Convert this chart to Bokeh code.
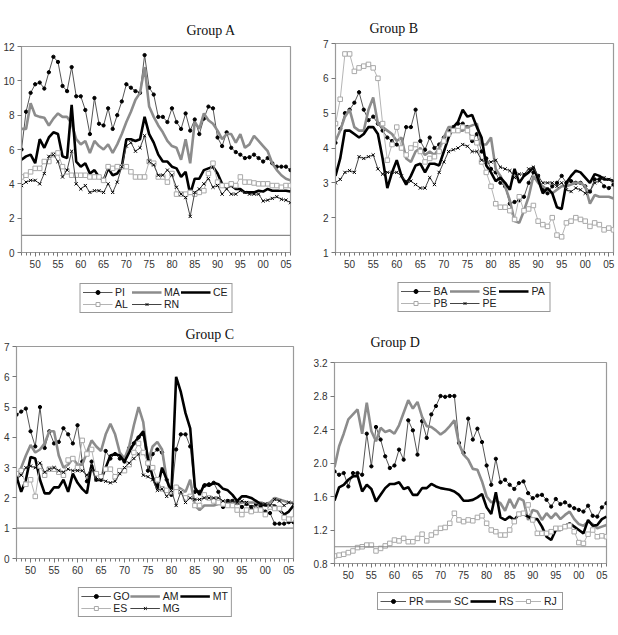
from bokeh.plotting import figure
from bokeh.layouts import column, row
from bokeh.models import Range1d, FixedTicker, Legend, LegendItem, Span
from bokeh.embed import file_html
from bokeh.resources import INLINE

years = list(range(1947, 2007))
x_major = list(range(1950, 2006, 5))
x_labels = {y: f"{y % 100:02d}" for y in x_major}

# ---------------- Group A ----------------
PI = [6.0, 8.2, 9.3, 9.8, 9.9, 9.55, 10.5, 11.4, 11.1, 9.7,
      9.4, 10.8, 9.1, 9.1, 8.3, 6.9, 9.0, 7.5, 7.4, 8.4,
      7.2, 8.0, 8.8, 9.8, 9.6, 9.4, 9.3, 11.5, 9.6, 9.2,
      7.9, 7.9, 7.6, 8.4, 7.6, 7.2, 8.1, 7.1, 7.75, 6.9,
      7.8, 8.5, 8.4, 6.7, 6.2, 7.0, 6.1, 5.85, 5.7, 5.5,
      5.55, 5.7, 5.5, 5.3, 5.5, 5.2, 5.0, 5.0, 5.0, 4.8]
MA = [7.2, 7.2, 8.7, 8.0, 7.9, 7.85, 7.4, 7.8, 8.1, 7.9,
      7.9, 7.5, 6.6, 6.3, 6.5, 5.8, 6.5, 6.2, 6.0, 6.3,
      5.8, 6.3, 6.9, 7.6, 8.2, 8.9, 9.3, 10.8, 8.5, 7.9,
      7.4, 7.0, 6.5, 6.2, 6.1, 5.4, 6.6, 5.2, 7.6, 7.2,
      8.1, 7.7, 7.5, 7.1, 6.6, 6.9, 6.9, 6.4, 6.9, 6.1,
      6.3, 6.8, 6.5, 6.2, 5.9, 5.2, 4.8, 4.5, 4.3, 4.2]
CE = [5.4, 5.6, 5.7, 5.2, 6.6, 6.1, 6.7, 7.0, 6.9, 5.6,
      5.5, 8.6, 5.3, 5.0, 5.2, 4.6, 4.8, 4.4, 4.2, 4.9,
      4.5, 4.6, 5.0, 6.6, 6.6, 6.5, 6.6, 7.9, 6.9, 6.4,
      5.7, 5.3, 5.3, 5.0, 4.9, 4.4, 4.7, 3.4, 4.3, 4.3,
      4.8, 4.9, 5.0, 4.6, 4.0, 3.8, 3.9, 3.7, 3.7, 3.5,
      3.5, 3.5, 3.6, 3.55, 3.7, 3.6, 3.6, 3.6, 3.6, 3.55]
AL = [4.4, 4.5, 4.7, 4.9, 4.9, 5.3, 5.3, 5.7, 5.8, 5.0,
      4.7, 4.5, 4.5, 4.5, 4.5, 4.4, 4.4, 4.4, 4.2, 5.0,
      4.9, 5.0, 5.0, 5.0, 4.7, 4.4, 4.4, 4.4, 5.3, 5.2,
      4.4, 4.4, 4.1, 4.6, 3.4, 3.4, 3.4, 3.5, 3.4, 3.5,
      3.6, 4.6, 5.2, 4.1, 3.9, 3.9, 4.0, 3.9, 4.4, 4.1,
      4.1, 4.05, 4.0, 4.0, 4.0, 3.9, 3.9, 3.8, 3.9, 3.9]
RN = [3.9, 4.1, 4.2, 4.2, 4.0, 4.6, 5.6, 5.7, 5.3, 4.4,
      4.8, 5.9, 4.0, 3.7, 3.9, 3.5, 3.6, 3.6, 3.5, 4.0,
      3.5, 4.1, 5.0, 6.2, 6.4, 5.9, 6.1, 6.8, 5.3, 5.1,
      4.5, 4.5, 4.8, 4.5, 3.8, 3.4, 3.2, 2.1, 3.5, 3.7,
      4.0, 4.3, 3.8, 3.9, 3.4, 3.7, 3.4, 3.4, 3.6, 3.5,
      3.4, 3.4, 3.4, 3.0, 3.05, 3.15, 3.25, 3.1, 3.05, 2.9]

# ---------------- Group B ----------------
BA = [4.15, 4.55, 5.0, 5.1, 5.3, 5.6, 5.1, 4.8, 4.9, 4.7,
      4.5, 4.3, 4.2, 4.1, 4.0, 4.6, 4.6, 5.1, 4.2, 3.95,
      4.3, 4.0, 4.1, 4.3, 4.5, 4.6, 4.7, 4.7, 4.6, 4.2,
      4.4, 3.9, 3.7, 3.4, 3.3, 3.0, 2.9, 2.4, 2.45, 2.5,
      2.6, 3.0, 3.3, 3.2, 2.8, 2.7, 2.9, 3.0, 3.2, 3.0,
      3.05, 3.0, 3.0, 2.9, 2.75, 3.1, 3.1, 2.9, 2.85, 2.95]
SE = [4.2, 4.5, 4.9, 5.1, 4.6, 4.5, 4.5, 5.1, 5.45, 4.7,
      4.6, 4.5, 4.4, 4.2, 4.3, 3.7, 3.6, 3.9, 4.0, 3.8,
      3.9, 3.8, 4.0, 4.3, 4.6, 4.6, 4.5, 4.5, 4.6, 4.65,
      4.7, 4.1, 4.1, 4.3, 3.4, 3.2, 2.9, 2.5, 1.9, 1.85,
      2.2, 2.6, 3.2, 3.0, 2.9, 2.8, 2.7, 2.8, 2.9, 2.9,
      2.95, 3.0, 3.0, 2.9, 2.4, 2.65, 2.6, 2.6, 2.6, 2.55]
PA = [3.2, 3.7, 4.5, 4.5, 4.4, 4.3, 4.4, 4.6, 4.6, 4.4,
      3.7, 2.85, 3.3, 3.65, 3.2, 2.95, 3.2, 3.5, 3.55, 3.3,
      3.55, 3.55, 3.5, 3.9, 4.3, 4.6, 4.75, 5.1, 4.9, 4.95,
      4.6, 4.3, 3.5, 3.3, 3.05, 3.15, 3.0, 2.8, 3.4, 3.0,
      3.2, 3.3, 3.45, 3.1, 2.7, 2.85, 2.7, 2.3, 2.25, 3.0,
      3.2, 3.35, 3.3, 3.15, 3.0, 3.25, 3.2, 3.1, 3.1, 3.05]
PB = [4.7, 5.4, 6.7, 6.7, 6.2, 6.3, 6.35, 6.4, 6.3, 6.0,
      4.7, 3.65, 4.1, 4.6, 4.0, 3.8, 4.0, 4.1, 3.9, 3.6,
      3.7, 3.75, 3.9, 4.2, 4.4, 4.5, 4.5, 4.6, 4.5, 4.3,
      4.15, 3.6, 3.3, 2.9, 2.4, 2.3, 2.3, 2.2, 1.95, 2.6,
      2.2, 2.25, 2.35, 1.9, 1.8, 1.75, 2.0, 1.5, 1.45, 1.85,
      1.9, 2.0, 1.95, 1.9, 1.75, 1.85, 1.8, 1.65, 1.7, 1.65]
PE = [3.0, 3.1, 3.3, 3.35, 3.3, 3.75, 3.7, 3.75, 3.8, 3.4,
      3.25, 3.3, 3.3, 3.3, 3.2, 3.05, 3.05, 2.95, 2.85, 2.85,
      3.15, 2.95, 3.3, 3.6, 3.9, 3.95, 4.0, 4.1, 4.05, 3.9,
      3.9, 3.65, 3.6, 3.6, 3.65, 3.45, 3.4, 3.35, 3.15, 3.25,
      3.25, 3.4, 3.45, 3.2, 3.0, 3.0, 3.0, 2.9, 3.0, 2.8,
      2.75, 2.85, 2.8, 2.7, 2.75, 3.0, 3.05, 3.15, 3.1, 3.05]

# ---------------- Group C ----------------
GO = [4.75, 4.85, 4.95, 4.2, 3.7, 5.0, 3.65, 4.2, 3.8, 3.85,
      4.3, 4.1, 3.8, 4.4, 3.2, 2.55, 3.2, 2.6, 2.6, 3.55,
      3.3, 3.45, 3.3, 3.2, 3.65, 3.8, 4.0, 4.1, 2.9, 3.45,
      3.6, 3.5, 2.6, 2.1, 3.6, 4.1, 4.1, 3.7, 2.2, 2.2,
      2.4, 2.45, 2.5, 2.2, 1.7, 1.9, 1.9, 1.85, 1.7, 1.8,
      1.7, 1.8, 1.7, 1.55, 1.5, 1.15, 1.15, 1.15, 1.2, 1.2]
AM = [2.6, 3.0, 3.4, 3.75, 3.5, 3.6, 3.8, 4.2, 4.2, 3.4,
      3.0, 3.1, 3.3, 3.1, 3.1, 3.5, 3.9, 3.7, 3.55, 4.1,
      4.45, 4.1, 3.5, 3.3, 3.7, 4.4, 5.0, 4.5, 3.2, 3.7,
      3.85, 3.6, 2.6, 2.2, 2.4, 2.3, 2.2, 2.6, 1.75, 1.6,
      1.75, 1.75, 1.75, 1.8, 1.8, 1.8, 1.85, 1.8, 1.85, 1.85,
      1.85, 1.85, 1.85, 1.8, 1.85, 2.0, 1.95, 1.9, 1.85, 1.85]
MT = [2.7, 2.2, 2.6, 3.35, 3.3, 2.6, 2.15, 2.15, 2.35, 2.35,
      2.6, 2.2, 2.8, 2.5, 2.3, 2.15, 3.1, 2.6, 2.6, 3.0,
      3.4, 3.45, 3.4, 3.2, 3.5, 3.8, 4.0, 4.2, 3.3, 2.7,
      2.3, 3.0, 2.6, 2.15, 6.0, 5.5, 4.8, 4.3, 2.35, 2.1,
      2.45, 2.4, 2.5, 2.45, 2.3, 2.25, 2.1, 1.9, 2.05, 2.05,
      2.0, 1.9, 1.8, 1.75, 1.75, 1.75, 1.6, 1.45, 1.55, 1.75]
ES = [2.8, 2.9, 2.45, 2.6, 2.05, 3.05, 2.75, 2.95, 2.95, 2.85,
      2.75, 3.25, 3.3, 3.0, 3.9, 3.45, 3.6, 2.8, 2.7, 2.95,
      2.95, 2.7, 2.9, 2.9, 3.1, 3.5, 3.8, 3.5, 3.15, 3.0,
      2.6, 2.3, 2.25, 2.2, 2.35, 2.2, 2.0, 2.05, 1.75, 1.75,
      2.1, 2.0, 1.9, 1.85, 1.8, 1.75, 1.75, 1.6, 1.45, 1.6,
      1.55, 1.6, 1.6, 1.45, 1.7, 1.65, 1.65, 1.35, 1.3, 1.3]
MG = [2.6, 2.75, 3.0, 3.05, 3.0, 3.15, 2.85, 2.95, 3.0, 2.9,
      2.85, 2.95, 2.9, 2.9, 2.9, 2.75, 3.0, 2.6, 2.6, 2.55,
      2.5, 2.55, 2.8, 3.0, 3.15, 3.3, 3.45, 2.75, 2.7, 2.6,
      2.25, 2.3, 2.05, 2.25, 1.75, 2.2, 1.85, 2.0, 1.95, 1.95,
      2.0, 2.0, 2.0, 2.0, 1.9, 1.9, 1.9, 1.85, 1.9, 1.85,
      1.7, 1.75, 1.8, 1.8, 1.75, 1.95, 1.9, 1.75, 1.85, 1.8]

# ---------------- Group D ----------------
PR = [1.9, 1.86, 1.88, 1.72, 1.88, 1.88, 1.86, 2.35, 1.96, 2.43,
      2.28, 2.08, 1.94, 1.97, 2.16, 2.04, 2.51, 2.39, 2.1, 2.5,
      2.3, 2.58, 2.68, 2.8, 2.79, 2.8, 2.8, 2.24, 2.12, 2.53,
      2.28, 2.41, 2.25, 1.97, 1.74, 2.05, 1.77, 1.8, 1.74, 1.69,
      1.76, 1.78, 1.64, 1.58, 1.61, 1.62, 1.56, 1.48, 1.57, 1.51,
      1.53, 1.49, 1.46, 1.44, 1.42, 1.49, 1.37, 1.36, 1.47, 1.52]
SC = [1.95, 2.2, 2.35, 2.52, 2.58, 2.64, 2.35, 2.72, 2.38, 2.26,
      2.42, 2.37, 2.39, 2.35, 2.45, 2.6, 2.75, 2.65, 2.73, 2.55,
      2.44, 2.43, 2.39, 2.34, 2.38, 2.44, 2.51, 2.23, 2.1, 2.04,
      1.93, 1.92, 1.78, 1.6, 1.53, 1.55, 1.52, 1.43, 1.57, 1.46,
      1.58, 1.55, 1.32, 1.44, 1.42, 1.32, 1.4, 1.34, 1.4, 1.33,
      1.38, 1.42, 1.33, 1.27, 1.25, 1.3, 1.27, 1.22, 1.24, 1.26]
RS = [1.55, 1.71, 1.74, 1.8, 1.84, 1.85, 1.66, 1.74, 1.69, 1.54,
      1.62, 1.7, 1.75, 1.75, 1.77, 1.69, 1.71, 1.62, 1.62, 1.7,
      1.7, 1.75, 1.72, 1.7, 1.69, 1.68, 1.66, 1.62, 1.55, 1.55,
      1.56, 1.59, 1.63, 1.47, 1.39, 1.65, 1.35, 1.32, 1.36, 1.32,
      1.39, 1.39, 1.36, 1.33, 1.33, 1.24, 1.12, 1.08, 1.2, 1.2,
      1.25, 1.28, 1.24, 1.2, 1.16, 1.32, 1.25, 1.26, 1.33, 1.36]
RJ = [0.89, 0.9, 0.91, 0.93, 0.95, 0.99, 1.0, 1.02, 1.02, 0.95,
      0.98, 1.01, 1.04, 1.08, 1.07, 1.1, 1.06, 1.06, 1.1, 1.15,
      1.07, 1.14, 1.17, 1.22, 1.23, 1.28, 1.4, 1.32, 1.3, 1.32,
      1.31, 1.35, 1.37, 1.28, 1.2, 1.18, 1.14, 1.14, 1.2, 1.3,
      1.39, 1.4, 1.5, 1.32, 1.16, 1.16, 1.16, 1.18, 1.22, 1.22,
      1.24, 1.25, 1.18, 1.05, 1.04, 1.15, 1.2, 1.12, 1.13, 1.12]

STYLES = {
    "dot": dict(line_color="#555555", line_width=1, marker="circle", size=3.3,
                fill="#000000", mline="#000000"),
    "gray": dict(line_color="#8c8c8c", line_width=2.6),
    "black": dict(line_color="#000000", line_width=2.6),
    "square": dict(line_color="#b4b4b4", line_width=1, marker="square", size=4.5,
                   fill="#ffffff", mline="#a8a8a8"),
    "x": dict(line_color="#444444", line_width=1, marker="x", size=4.5,
              fill="#000000", mline="#000000"),
}

FONT = "Liberation Sans"


def add_series(p, xs, vals, sty):
    st = STYLES[sty]
    rs = [p.line(xs, vals, line_color=st["line_color"], line_width=st["line_width"])]
    if "marker" in st:
        rs.append(p.scatter(xs, vals, marker=st["marker"], size=st["size"],
                            fill_color=st["fill"], line_color=st["mline"],
                            line_width=1))
    return rs


def panel(title, series, yr, yticks, ylabels, width, height, borders,
          title_offset, title_standoff, ref_line=True):
    left, right, top, bottom = borders
    p = figure(width=width, height=height, output_backend="svg",
               toolbar_location=None, x_range=Range1d(1947, 2006),
               y_range=Range1d(*yr), min_border_left=left,
               min_border_right=right, min_border_top=top,
               min_border_bottom=bottom)
    p.xgrid.visible = False
    p.ygrid.visible = False
    p.outline_line_color = "#9a9a9a"
    p.outline_line_width = 1.2
    p.background_fill_color = "white"
    p.border_fill_color = "white"

    p.title.text = title
    p.title.align = "left"
    p.title.offset = title_offset
    p.title.standoff = title_standoff
    p.title.text_font = "Liberation Serif"
    p.title.text_font_size = "14px"
    p.title.text_font_style = "normal"
    p.title.text_color = "#111111"

    p.xaxis.ticker = FixedTicker(ticks=x_major, minor_ticks=years)
    p.xaxis.major_label_overrides = x_labels
    p.yaxis.ticker = FixedTicker(ticks=yticks)
    if ylabels:
        p.yaxis.major_label_overrides = ylabels
    for ax in (p.xaxis, p.yaxis):
        ax.axis_line_color = "#9a9a9a"
        ax.major_tick_line_color = "#777777"
        ax.minor_tick_line_color = "#777777"
        ax.major_tick_in = 0
        ax.major_tick_out = 4
        ax.minor_tick_in = 0
        ax.minor_tick_out = 3
        ax.major_label_text_font = FONT
        ax.major_label_text_font_size = "10px"
        ax.major_label_text_color = "#333333"
        ax.major_label_standoff = 3
    p.yaxis.minor_tick_line_color = None

    if ref_line:
        p.add_layout(Span(location=1, dimension="width", line_color="#8a8a8a",
                          line_width=1.2))

    for name, vals, sty in series:
        add_series(p, years, vals, sty)
    return p


def legend_fig(series, width, height, ncols, top_gap, left, right, gw=30):
    # the series are drawn here too, but out of view: only the legend shows
    q = figure(width=width, height=height, output_backend="svg",
               toolbar_location=None, x_range=Range1d(0, 1), y_range=Range1d(0, 1),
               min_border_left=left, min_border_right=right,
               min_border_top=0, min_border_bottom=0)
    q.axis.visible = False
    q.grid.visible = False
    q.outline_line_color = None
    q.border_fill_color = "white"
    items = []
    for name, vals, sty in series:
        rs = add_series(q, years, vals, sty)
        items.append(LegendItem(label=name, renderers=rs))
    lg = Legend(items=items, orientation="horizontal", ncols=ncols,
                location="top_center", border_line_color="#333333",
                border_line_width=1, background_fill_color="white",
                background_fill_alpha=1, label_text_font=FONT,
                label_text_font_size="10.5px", label_text_color="#222222",
                glyph_width=gw, glyph_height=10, label_height=10,
                label_width=16, label_standoff=3, spacing=0, padding=2,
                margin=top_gap)
    q.add_layout(lg)
    return q


SA = [("PI", PI, "dot"), ("MA", MA, "gray"), ("CE", CE, "black"),
      ("AL", AL, "square"), ("RN", RN, "x")]
SB = [("BA", BA, "dot"), ("SE", SE, "gray"), ("PA", PA, "black"),
      ("PB", PB, "square"), ("PE", PE, "x")]
SCc = [("GO", GO, "dot"), ("AM", AM, "gray"), ("MT", MT, "black"),
       ("ES", ES, "square"), ("MG", MG, "x")]
SD = [("PR", PR, "dot"), ("SC", SC, "gray"), ("RS", RS, "black"),
      ("RJ", RJ, "square")]

pA = panel("Group A", SA, (0, 12), [0, 2, 4, 6, 8, 10, 12], None,
           310, 278, (16, 20, 46, 26), 165, 18)
lA = legend_fig(SA, 310, 42, 3, 5, 18, 20)
pB = panel("Group B", SB, (1, 7), [1, 2, 3, 4, 5, 6, 7], None,
           308, 280, (25, 5, 43, 28), 34, 16, ref_line=False)
lB = legend_fig(SB, 308, 40, 3, 2, 18, 5)
pC = panel("Group C", SCc, (0, 7), [0, 1, 2, 3, 4, 5, 6, 7], None,
           310, 265, (12, 17, 25, 27), 169, 9)
lC = legend_fig(SCc, 310, 50, 3, 2, 12, 17)
pD = panel("Group D", SD, (0.8, 3.2), [0.8, 1.2, 1.6, 2.0, 2.4, 2.8, 3.2],
           {0.8: "0.8", 1.2: "1.2", 1.6: "1.6", 2.0: "2.0", 2.4: "2.4",
            2.8: "2.8", 3.2: "3.2"},
           308, 270, (22, 12, 42, 27), 36, 25)
lD = legend_fig(SD, 308, 45, 4, 2, 22, 12, gw=26)

layout = column(row(column(pA, lA), column(pB, lB)),
                row(column(pC, lC), column(pD, lD)))
open("out.html", "w").write(file_html(layout, INLINE))
